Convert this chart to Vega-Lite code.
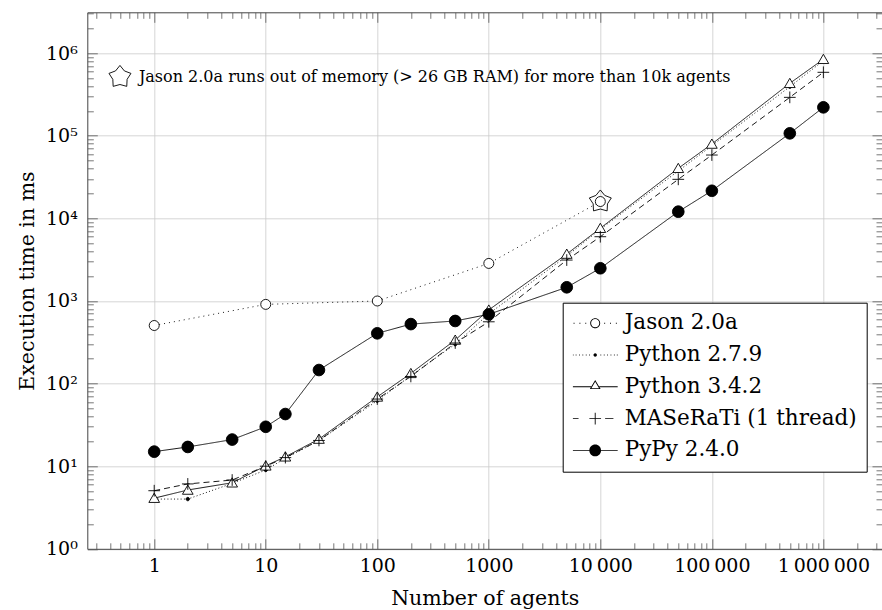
{
  "$schema": "https://vega.github.io/schema/vega-lite/v6.json",
  "width": 794.7,
  "height": 536.5,
  "autosize": {"type": "none"},
  "padding": {"left": 87.3, "top": 12.3, "right": 0, "bottom": 61.2},
  "config": {
    "view": {"stroke": null},
    "text": {"font": "DejaVu Serif"}
  },
  "data": {"values": [
    {"series": "Jason 2.0a", "agents": 1, "ms": 505},
    {"series": "Jason 2.0a", "agents": 10, "ms": 910},
    {"series": "Jason 2.0a", "agents": 100, "ms": 1000},
    {"series": "Jason 2.0a", "agents": 1000, "ms": 2850},
    {"series": "Jason 2.0a", "agents": 10000, "ms": 16000},
    {"series": "Python 2.7.9", "agents": 1, "ms": 4.0},
    {"series": "Python 2.7.9", "agents": 2, "ms": 4.0},
    {"series": "Python 2.7.9", "agents": 5, "ms": 6.2},
    {"series": "Python 2.7.9", "agents": 10, "ms": 9.0},
    {"series": "Python 2.7.9", "agents": 15, "ms": 12.5},
    {"series": "Python 2.7.9", "agents": 30, "ms": 20.4},
    {"series": "Python 2.7.9", "agents": 100, "ms": 62},
    {"series": "Python 2.7.9", "agents": 200, "ms": 125},
    {"series": "Python 2.7.9", "agents": 500, "ms": 300},
    {"series": "Python 2.7.9", "agents": 1000, "ms": 700},
    {"series": "Python 2.7.9", "agents": 5000, "ms": 3500},
    {"series": "Python 2.7.9", "agents": 10000, "ms": 7400},
    {"series": "Python 2.7.9", "agents": 50000, "ms": 37500},
    {"series": "Python 2.7.9", "agents": 100000, "ms": 76000},
    {"series": "Python 2.7.9", "agents": 500000, "ms": 393000},
    {"series": "Python 2.7.9", "agents": 1000000, "ms": 810000},
    {"series": "Python 3.4.2", "agents": 1, "ms": 4.1},
    {"series": "Python 3.4.2", "agents": 2, "ms": 5.15},
    {"series": "Python 3.4.2", "agents": 5, "ms": 6.3},
    {"series": "Python 3.4.2", "agents": 10, "ms": 10.1},
    {"series": "Python 3.4.2", "agents": 15, "ms": 13},
    {"series": "Python 3.4.2", "agents": 30, "ms": 21.3},
    {"series": "Python 3.4.2", "agents": 100, "ms": 69},
    {"series": "Python 3.4.2", "agents": 200, "ms": 133},
    {"series": "Python 3.4.2", "agents": 500, "ms": 337},
    {"series": "Python 3.4.2", "agents": 1000, "ms": 780},
    {"series": "Python 3.4.2", "agents": 5000, "ms": 3700},
    {"series": "Python 3.4.2", "agents": 10000, "ms": 7600},
    {"series": "Python 3.4.2", "agents": 50000, "ms": 40400},
    {"series": "Python 3.4.2", "agents": 100000, "ms": 79500},
    {"series": "Python 3.4.2", "agents": 500000, "ms": 432000},
    {"series": "Python 3.4.2", "agents": 1000000, "ms": 844000},
    {"series": "MASeRaTi (1 thread)", "agents": 1, "ms": 5.05},
    {"series": "MASeRaTi (1 thread)", "agents": 2, "ms": 6.1},
    {"series": "MASeRaTi (1 thread)", "agents": 5, "ms": 6.8},
    {"series": "MASeRaTi (1 thread)", "agents": 10, "ms": 10},
    {"series": "MASeRaTi (1 thread)", "agents": 15, "ms": 12.7},
    {"series": "MASeRaTi (1 thread)", "agents": 30, "ms": 20.5},
    {"series": "MASeRaTi (1 thread)", "agents": 100, "ms": 65},
    {"series": "MASeRaTi (1 thread)", "agents": 200, "ms": 122},
    {"series": "MASeRaTi (1 thread)", "agents": 500, "ms": 310},
    {"series": "MASeRaTi (1 thread)", "agents": 1000, "ms": 560},
    {"series": "MASeRaTi (1 thread)", "agents": 5000, "ms": 3130},
    {"series": "MASeRaTi (1 thread)", "agents": 10000, "ms": 6000},
    {"series": "MASeRaTi (1 thread)", "agents": 50000, "ms": 29700},
    {"series": "MASeRaTi (1 thread)", "agents": 100000, "ms": 58500},
    {"series": "MASeRaTi (1 thread)", "agents": 500000, "ms": 292000},
    {"series": "MASeRaTi (1 thread)", "agents": 1000000, "ms": 587000},
    {"series": "PyPy 2.4.0", "agents": 1, "ms": 15},
    {"series": "PyPy 2.4.0", "agents": 2, "ms": 17.1},
    {"series": "PyPy 2.4.0", "agents": 5, "ms": 21},
    {"series": "PyPy 2.4.0", "agents": 10, "ms": 30},
    {"series": "PyPy 2.4.0", "agents": 15, "ms": 42.8},
    {"series": "PyPy 2.4.0", "agents": 30, "ms": 146},
    {"series": "PyPy 2.4.0", "agents": 100, "ms": 406},
    {"series": "PyPy 2.4.0", "agents": 200, "ms": 525},
    {"series": "PyPy 2.4.0", "agents": 500, "ms": 573},
    {"series": "PyPy 2.4.0", "agents": 1000, "ms": 690},
    {"series": "PyPy 2.4.0", "agents": 5000, "ms": 1465},
    {"series": "PyPy 2.4.0", "agents": 10000, "ms": 2490},
    {"series": "PyPy 2.4.0", "agents": 50000, "ms": 12050},
    {"series": "PyPy 2.4.0", "agents": 100000, "ms": 21600},
    {"series": "PyPy 2.4.0", "agents": 500000, "ms": 107000},
    {"series": "PyPy 2.4.0", "agents": 1000000, "ms": 221000}
  ]},
  "resolve": {"axis": {"x": "independent", "y": "independent"}, "scale": {"shape": "independent"}},
  "layer": [
    {
      "mark": {"type": "line", "stroke": "black", "strokeWidth": 0.9},
      "encoding": {
        "x": {"field": "agents", "type": "quantitative",
          "scale": {"type": "log", "domain": [0.25119, 3354300], "nice": false},
          "axis": {"orient": "bottom", "values": [1, 10, 100, 1000, 10000, 100000, 1000000],
            "labelExpr": "datum.value >= 10000 ? replace(replace(format(datum.value, ','), ',', '\u2009'), ',', '\u2009') : format(datum.value, 'd')",
            "grid": true, "gridColor": "#cccccc", "gridWidth": 0.8, "ticks": false,
            "domain": true, "domainColor": "#444444", "domainWidth": 1,
            "labelFont": "DejaVu Serif", "labelFontSize": 19, "labelColor": "black", "labelPadding": 8,
            "labelFlush": false, "labelOverlap": false,
            "title": "Number of agents", "titleFont": "DejaVu Serif", "titleFontSize": 20.5,
            "titleFontWeight": "normal", "titleColor": "black", "titlePadding": 13}},
        "y": {"field": "ms", "type": "quantitative",
          "scale": {"type": "log", "domain": [1, 3126000], "nice": false},
          "axis": {"orient": "left", "values": [1, 10, 100, 1000, 10000, 100000, 1000000],
            "labelExpr": "'10' + ['⁰','¹','²','³','⁴','⁵','⁶'][round(log(datum.value) / LN10)]",
            "grid": true, "gridColor": "#cccccc", "gridWidth": 0.8, "ticks": false,
            "domain": true, "domainColor": "#444444", "domainWidth": 1,
            "labelFont": "DejaVu Serif", "labelFontSize": 19, "labelColor": "black", "labelPadding": 10,
            "labelOverlap": false, "labelFlush": false,
            "title": "Execution time in ms", "titleFont": "DejaVu Serif", "titleFontSize": 20.5,
            "titleFontWeight": "normal", "titleColor": "black", "titlePadding": 8}},
        "strokeDash": {"field": "series", "type": "nominal", "legend": null,
          "scale": {"domain": ["Jason 2.0a", "Python 2.7.9", "Python 3.4.2", "MASeRaTi (1 thread)", "PyPy 2.4.0"],
            "range": [[1, 4], [1, 2.3], [1, 0], [6, 4], [1, 0]]}}
      }
    },
    {
      "mark": {"type": "point", "filled": true, "stroke": "black", "strokeWidth": 0.9, "opacity": 1, "size": 100},
      "encoding": {
        "x": {"field": "agents", "type": "quantitative",
          "scale": {"type": "log", "domain": [0.25119, 3354300], "nice": false},
          "axis": {"orient": "bottom", "values": [1, 10, 100, 1000, 10000, 100000, 1000000],
            "labels": false, "grid": false, "domain": false, "ticks": true, "tickSize": -10,
            "tickColor": "#555555", "tickWidth": 0.8, "title": null}},
        "y": {"field": "ms", "type": "quantitative",
          "scale": {"type": "log", "domain": [1, 3126000], "nice": false},
          "axis": {"orient": "left", "values": [1, 10, 100, 1000, 10000, 100000, 1000000],
            "labels": false, "grid": false, "domain": false, "ticks": true, "tickSize": -10,
            "tickColor": "#555555", "tickWidth": 0.8, "title": null}},
        "shape": {"field": "series", "type": "nominal", "legend": null,
          "scale": {"domain": ["Jason 2.0a", "Python 2.7.9", "Python 3.4.2", "MASeRaTi (1 thread)", "PyPy 2.4.0"],
            "range": [
              "M1,0A1,1 0 1,1 -1,0A1,1 0 1,1 1,0Z",
              "M0.34,0A0.34,0.34 0 1,1 -0.34,0A0.34,0.34 0 1,1 0.34,0Z",
              "M0,-1L1.07,0.85L-1.07,0.85Z",
              "M-1.17,0L1.17,0M0,-1.17L0,1.17",
              "M1.17,0A1.17,1.17 0 1,1 -1.17,0A1.17,1.17 0 1,1 1.17,0Z"
            ]}},
        "fill": {"field": "series", "type": "nominal", "legend": null,
          "scale": {"domain": ["Jason 2.0a", "Python 2.7.9", "Python 3.4.2", "MASeRaTi (1 thread)", "PyPy 2.4.0"],
            "range": ["white", "black", "white", "transparent", "black"]}}
      }
    },
    {
      "transform": [{"filter": "datum.series === 'Jason 2.0a' && datum.agents === 10000"}],
      "mark": {"type": "point", "filled": false, "stroke": "black", "strokeWidth": 0.9, "opacity": 1, "size": 535,
        "shape": "M0,-1L0.382,-0.526L0.951,-0.309L0.618,0.201L0.588,0.809L0,0.65L-0.588,0.809L-0.618,0.201L-0.951,-0.309L-0.382,-0.526Z"},
      "encoding": {
        "x": {"field": "agents", "type": "quantitative",
          "scale": {"type": "log", "domain": [0.25119, 3354300], "nice": false},
          "axis": {"orient": "bottom", "values": [0.3,0.4,0.5,0.6,0.7,0.8,0.9,2,3,4,5,6,7,8,9,20,30,40,50,60,70,80,90,200,300,400,500,600,700,800,900,2000,3000,4000,5000,6000,7000,8000,9000,20000,30000,40000,50000,60000,70000,80000,90000,200000,300000,400000,500000,600000,700000,800000,900000,2000000,3000000],
            "labels": false, "grid": false, "domain": false, "ticks": true, "tickSize": -6,
            "tickColor": "#555555", "tickWidth": 0.8, "title": null}},
        "y": {"field": "ms", "type": "quantitative",
          "scale": {"type": "log", "domain": [1, 3126000], "nice": false},
          "axis": {"orient": "left", "values": [2,3,4,5,6,7,8,9,20,30,40,50,60,70,80,90,200,300,400,500,600,700,800,900,2000,3000,4000,5000,6000,7000,8000,9000,20000,30000,40000,50000,60000,70000,80000,90000,200000,300000,400000,500000,600000,700000,800000,900000,2000000,3000000],
            "labels": false, "grid": false, "domain": false, "ticks": true, "tickSize": -6,
            "tickColor": "#555555", "tickWidth": 0.8, "title": null}}
      }
    },
    {
      "data": {"values": [{"note": "star"}]},
      "mark": {"type": "point", "filled": false, "stroke": "black", "strokeWidth": 0.9, "opacity": 1, "size": 535,
        "shape": "M0,-1L0.382,-0.526L0.951,-0.309L0.618,0.201L0.588,0.809L0,0.65L-0.588,0.809L-0.618,0.201L-0.951,-0.309L-0.382,-0.526Z"},
      "encoding": {
        "x": {"datum": 0.493, "type": "quantitative",
          "scale": {"type": "log", "domain": [0.25119, 3354300], "nice": false},
          "axis": {"orient": "top", "values": [1, 10, 100, 1000, 10000, 100000, 1000000],
            "labels": false, "grid": false, "domain": true, "domainColor": "#444444", "domainWidth": 1,
            "ticks": true, "tickSize": -10, "tickColor": "#555555", "tickWidth": 0.8, "title": null}},
        "y": {"datum": 515000, "type": "quantitative",
          "scale": {"type": "log", "domain": [1, 3126000], "nice": false},
          "axis": {"orient": "right", "values": [1, 10, 100, 1000, 10000, 100000, 1000000],
            "labels": false, "grid": false, "domain": false,
            "ticks": true, "tickSize": -10, "tickColor": "#555555", "tickWidth": 0.8, "title": null}}
      }
    },
    {
      "data": {"values": [{"label": "Jason 2.0a runs out of memory (> 26 GB RAM) for more than 10k agents"}]},
      "mark": {"type": "text", "align": "left", "baseline": "middle", "font": "DejaVu Serif", "fontSize": 16, "color": "black"},
      "encoding": {
        "text": {"field": "label", "type": "nominal"},
        "x": {"datum": 0.729, "type": "quantitative",
          "scale": {"type": "log", "domain": [0.25119, 3354300], "nice": false},
          "axis": {"orient": "top", "values": [0.3,0.4,0.5,0.6,0.7,0.8,0.9,2,3,4,5,6,7,8,9,20,30,40,50,60,70,80,90,200,300,400,500,600,700,800,900,2000,3000,4000,5000,6000,7000,8000,9000,20000,30000,40000,50000,60000,70000,80000,90000,200000,300000,400000,500000,600000,700000,800000,900000,2000000,3000000],
            "labels": false, "grid": false, "domain": false, "ticks": true, "tickSize": -6,
            "tickColor": "#555555", "tickWidth": 0.8, "title": null}},
        "y": {"datum": 515000, "type": "quantitative",
          "scale": {"type": "log", "domain": [1, 3126000], "nice": false},
          "axis": {"orient": "right", "values": [2,3,4,5,6,7,8,9,20,30,40,50,60,70,80,90,200,300,400,500,600,700,800,900,2000,3000,4000,5000,6000,7000,8000,9000,20000,30000,40000,50000,60000,70000,80000,90000,200000,300000,400000,500000,600000,700000,800000,900000,2000000,3000000],
            "labels": false, "grid": false, "domain": false, "ticks": true, "tickSize": -6,
            "tickColor": "#555555", "tickWidth": 0.8, "title": null}}
      }
    },
    {
      "transform": [{"filter": "false"}],
      "mark": {"type": "point", "filled": true, "color": "black", "strokeWidth": 0, "opacity": 1},
      "encoding": {
        "shape": {"field": "series", "type": "nominal",
          "scale": {"domain": ["Jason 2.0a", "Python 2.7.9", "Python 3.4.2", "MASeRaTi (1 thread)", "PyPy 2.4.0"],
            "range": [
              "M-0.962,-0.022L-0.918,-0.022L-0.918,0.022L-0.962,0.022ZM-0.702,-0.022L-0.658,-0.022L-0.658,0.022L-0.702,0.022ZM-0.442,-0.022L-0.398,-0.022L-0.398,0.022L-0.442,0.022ZM0.398,-0.022L0.442,-0.022L0.442,0.022L0.398,0.022ZM0.658,-0.022L0.702,-0.022L0.702,0.022L0.658,0.022ZM0.918,-0.022L0.962,-0.022L0.962,0.022L0.918,0.022ZM0.222,0A0.222,0.222 0 1,1 -0.222,0A0.222,0.222 0 1,1 0.222,0ZM0.182,0A0.182,0.182 0 1,0 -0.182,0A0.182,0.182 0 1,0 0.182,0Z",
              "M-0.998,-0.018L-0.962,-0.018L-0.962,0.018L-0.998,0.018ZM-0.868,-0.018L-0.832,-0.018L-0.832,0.018L-0.868,0.018ZM-0.718,-0.018L-0.682,-0.018L-0.682,0.018L-0.718,0.018ZM-0.568,-0.018L-0.532,-0.018L-0.532,0.018L-0.568,0.018ZM-0.418,-0.018L-0.382,-0.018L-0.382,0.018L-0.418,0.018ZM-0.268,-0.018L-0.232,-0.018L-0.232,0.018L-0.268,0.018ZM0.232,-0.018L0.268,-0.018L0.268,0.018L0.232,0.018ZM0.382,-0.018L0.418,-0.018L0.418,0.018L0.382,0.018ZM0.532,-0.018L0.568,-0.018L0.568,0.018L0.532,0.018ZM0.682,-0.018L0.718,-0.018L0.718,0.018L0.682,0.018ZM0.832,-0.018L0.868,-0.018L0.868,0.018L0.832,0.018ZM0.962,-0.018L0.998,-0.018L0.998,0.018L0.962,0.018ZM0.075,0A0.075,0.075 0 1,1 -0.075,0A0.075,0.075 0 1,1 0.075,0Z",
              "M-1,-0.02L-0.18,-0.02L-0.18,0.02L-1,0.02ZM0.18,-0.02L1,-0.02L1,0.02L0.18,0.02ZM0,-0.3L0.24,0.1L-0.24,0.1ZM0,-0.2223L-0.1694,0.06L0.1694,0.06Z",
              "M-1,-0.02L-0.74,-0.02L-0.74,0.02L-1,0.02ZM-0.26,-0.02L0.26,-0.02L0.26,0.02L-0.26,0.02ZM-0.02,-0.26L0.02,-0.26L0.02,0.26L-0.02,0.26ZM0.44,-0.02L0.81,-0.02L0.81,0.02L0.44,0.02Z",
              "M-1,-0.02L1,-0.02L1,0.02L-1,0.02ZM0.26,0A0.26,0.26 0 1,1 -0.26,0A0.26,0.26 0 1,1 0.26,0Z"
            ]},
          "legend": {
            "orient": "none", "legendX": 475.4, "legendY": 290.4, "title": null,
            "symbolSize": 2025, "symbolStrokeWidth": 0, "symbolFillColor": "black", "symbolOpacity": 1,
            "clipHeight": 21,
            "labelFont": "DejaVu Serif", "labelFontSize": 21.5, "labelColor": "black", "labelLimit": 0,
            "labelOffset": 7, "rowPadding": 9.8, "padding": 10,
            "strokeColor": "black", "fillColor": "white", "cornerRadius": 0
          }}
      }
    }
  ]
}
